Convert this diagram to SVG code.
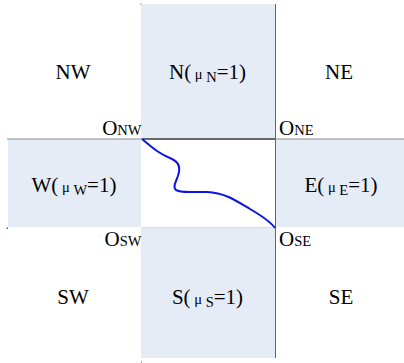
<svg xmlns="http://www.w3.org/2000/svg" width="404" height="363" viewBox="0 0 404 363">
<style>
.t{font-family:"Liberation Serif","Times New Roman",serif;font-size:21px;fill:#000}
.s{font-size:14.5px}
.fill{fill:#E6ECF6}
.dot{fill:#666}
</style>
<rect width="404" height="363" fill="#fff"/>
<g id="N"><rect class="fill" x="141" y="4" width="134" height="135"/><text class="t" x="207.5" y="79" text-anchor="middle" xml:space="preserve">N(<tspan class="s"> μ </tspan><tspan class="s" dy="3">N</tspan><tspan dy="-3">=1)</tspan></text></g>
<g id="W"><rect class="fill" x="8" y="139" width="133" height="88"/><text class="t" x="74" y="192" text-anchor="middle" xml:space="preserve">W(<tspan class="s"> μ </tspan><tspan class="s" dy="3">W</tspan><tspan dy="-3">=1)</tspan></text></g>
<g id="E"><rect class="fill" x="275" y="139" width="129" height="88"/><text class="t" x="341" y="192" text-anchor="middle" xml:space="preserve">E(<tspan class="s"> μ </tspan><tspan class="s" dy="3">E</tspan><tspan dy="-3">=1)</tspan></text></g>
<g id="S"><rect class="fill" x="141" y="227" width="134" height="131"/><text class="t" x="207.5" y="304" text-anchor="middle" xml:space="preserve">S(<tspan class="s"> μ </tspan><tspan class="s" dy="3">S</tspan><tspan dy="-3">=1)</tspan></text></g>
<g id="C"><rect x="142" y="139" width="133" height="88" fill="#fff"/></g>
<g id="NW"><text class="t" x="73" y="79" text-anchor="middle">NW</text></g>
<g id="NE"><text class="t" x="339" y="79" text-anchor="middle">NE</text></g>
<g id="SW"><text class="t" x="73" y="304" text-anchor="middle">SW</text></g>
<g id="SE"><text class="t" x="341" y="304" text-anchor="middle">SE</text></g>
<g id="ONW"><text class="t" x="141.5" y="135" text-anchor="end">O<tspan class="s">NW</tspan></text></g>
<g id="ONE"><text class="t" x="279" y="135">O<tspan class="s">NE</tspan></text></g>
<g id="OSW"><text class="t" x="141.5" y="246" text-anchor="end">O<tspan class="s">SW</tspan></text></g>
<g id="OSE"><text class="t" x="279" y="246">O<tspan class="s">SE</tspan></text></g>
<g id="connectors" fill="none">
<line x1="7" y1="139" x2="404" y2="139" stroke="#8a8a8a" stroke-width="1"/>
<line x1="142" y1="139" x2="275" y2="139" stroke="#111" stroke-width="1"/>
<line x1="142" y1="227.5" x2="275" y2="227.5" stroke="#d8dde6" stroke-width="1"/>
<line x1="275.5" y1="4" x2="275.5" y2="358" stroke="#666" stroke-width="1"/>
<path d="M142,139 C155,150 160,154 172,159 C183,164 179,174 176,181 C172,190 175,192 190,192 L207,192 C225,193 235,200 250,209 C262,216 270,221 275,228" stroke="#0A14E6" stroke-width="2"/>
</g>
<rect class="dot" x="140.5" y="3.5" width="1" height="1"/>
<rect class="dot" x="6.5" y="227.5" width="1.5" height="1.5"/>
<rect class="dot" x="141" y="361.5" width="1" height="1"/>
</svg>
